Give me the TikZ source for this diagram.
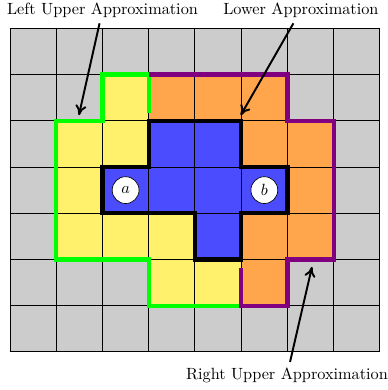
\documentclass[tikz,border=0pt]{standalone}
\usepackage{amsmath}
\usepackage{xcolor}
\usepackage{tikz}
\usetikzlibrary{arrows.meta,positioning,calc}
\definecolor{cellgray}{RGB}{204,204,204}
\definecolor{cellyellow}{RGB}{255,241,108}
\definecolor{cellorange}{RGB}{255,166,76}
\definecolor{cellblue}{RGB}{76,76,255}
\definecolor{leftgreen}{RGB}{0,255,0}
\definecolor{rightpurple}{RGB}{128,0,128}
\tikzset{
  >={To[length=2.2mm,width=2.4mm]},
  gridline/.style={draw=black, line width=0.6pt},
  lowerline/.style={draw=black, line width=2.6pt},
  leftline/.style={draw=leftgreen, line width=2.6pt},
  rightline/.style={draw=rightpurple, line width=2.6pt},
  elem/.style={circle, draw, fill=white, minimum size=0.58cm, inner sep=0pt},
  lbl/.style={inner sep=3.3pt},
  pointer/.style={->, line width=1.2pt},
}

\begin{document}
\begin{tikzpicture}
  \useasboundingbox (-0.216,-0.822) rectangle (8.173,7.611);
  % cells
  \fill[cellgray] (0,0) rectangle (8,7);
  \foreach \c/\r in {2/5, 1/4, 2/4, 1/3, 1/2, 2/2, 3/2, 3/1, 4/1}
    \fill[cellyellow] (\c,\r) rectangle ++(1,1);
  \foreach \c/\r in {3/5, 4/5, 5/5, 5/4, 6/4, 6/3, 5/2, 6/2, 5/1}
    \fill[cellorange] (\c,\r) rectangle ++(1,1);
  \foreach \c/\r in {3/4, 4/4, 2/3, 3/3, 4/3, 5/3, 4/2}
    \fill[cellblue] (\c,\r) rectangle ++(1,1);
  \draw[gridline] (0,0) grid (8,7);
  % approximations
  \draw[leftline] (3,5.17) -- (3,6) -- (2,6) -- (2,5) -- (1,5) -- (1,2)
    -- (3,2) -- (3,1) -- (5,1);
  \draw[rightline] (3,6) -- (6,6) -- (6,5) -- (7,5) -- (7,2) -- (6,2)
    -- (6,1) -- (5,1) -- (5,1.82);
  \draw[lowerline] (3,5) -- (5,5) -- (5,4) -- (6,4) -- (6,3) -- (5,3)
    -- (5,2) -- (4,2) -- (4,3) -- (2,3) -- (2,4) -- (3,4) -- cycle;
  \node[elem] (a) at (2.5,3.5) {$a$};
  \node[elem] (b) at (5.5,3.5) {$b$};
  % labels
  \node[lbl] (lua) at (2.0,7.39) {Left Upper Approximation};
  \node[lbl] (la) at (6.29,7.39) {Lower Approximation};
  \node[lbl] (rua) at (5.99,-0.5) {Right Upper Approximation};
  \coordinate (luatip) at (1.49,5.12);
  \coordinate (latip) at (4.99,5.12);
  \coordinate (ruatip) at (6.53,1.84);
  \draw[pointer] (lua) -- (luatip);
  \draw[pointer] (la) -- (latip);
  \draw[pointer] (rua) -- (ruatip);
\end{tikzpicture}
\end{document}
